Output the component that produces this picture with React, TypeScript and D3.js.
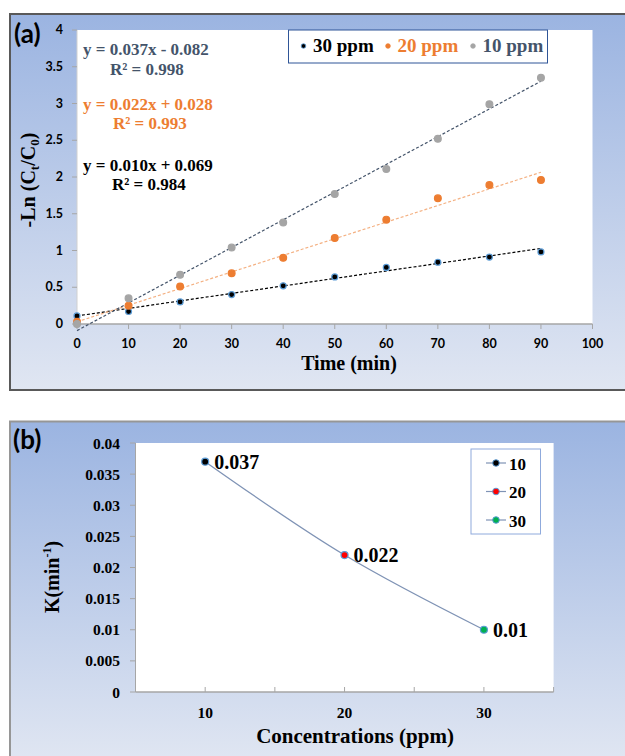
import React from 'react';
import * as d3 from 'd3';

// ---- panel (a) data ----
const times = [0, 10, 20, 30, 40, 50, 60, 70, 80, 90];
const ppm30 = [0.11, 0.17, 0.30, 0.40, 0.52, 0.64, 0.77, 0.84, 0.91, 0.98];
const ppm20 = [0.03, 0.25, 0.51, 0.69, 0.90, 1.17, 1.42, 1.71, 1.89, 1.96];
const ppm10 = [0.0, 0.35, 0.67, 1.04, 1.38, 1.77, 2.11, 2.52, 2.99, 3.35];
// trend lines as drawn (slope, intercept) for 30, 20, 10 ppm
const trendSlopes = [0.0102, 0.0226, 0.0377];
const trendIntercepts = [0.11, 0.03, -0.09];
const xTicksA = [0, 10, 20, 30, 40, 50, 60, 70, 80, 90, 100];
const yTicksA = [0, 0.5, 1, 1.5, 2, 2.5, 3, 3.5, 4];
const equations = ['y = 0.037x - 0.082', 'y = 0.022x + 0.028', 'y = 0.010x + 0.069'];
const rSquared = ['R² = 0.998', 'R² = 0.993', 'R² = 0.984'];
const legendA = ['30 ppm', '20 ppm', '10 ppm'];

// ---- panel (b) data ----
const concentrations = [10, 20, 30];
const rateK = [0.037, 0.022, 0.01];
const kLabels = ['0.037', '0.022', '0.01'];
const xTicksB = [5, 10, 15, 20, 25, 30, 35];
const xLabelsB = [10, 20, 30];
const yTicksB = [0, 0.005, 0.01, 0.015, 0.02, 0.025, 0.03, 0.035, 0.04];

const SERIF = '"Liberation Serif", "Times New Roman", serif';
const SANS = 'Lato, "Open Sans", sans-serif';
const C = {
  slate: '#44546a',
  orange: '#ed7d31',
  orangeLight: '#f4b183',
  gray: '#a5a5a5',
  blueRing: '#5b9bd5',
  axis: '#a6a6a6',
  line: '#7f93b5',
};

function PanelA() {
  const x = d3.scaleLinear().domain([0, 100]).range([77, 592.5]);
  const y = d3.scaleLinear().domain([0, 4]).range([324, 30]);
  const series = [
    { vals: ppm30, fill: '#000', stroke: C.blueRing, trend: '#000', r: 3 },
    { vals: ppm20, fill: C.orange, stroke: C.orange, trend: C.orangeLight, r: 3.4 },
    { vals: ppm10, fill: C.gray, stroke: C.gray, trend: C.slate, r: 3.4 },
  ];
  const eqColors = [C.slate, C.orange, '#000'];
  const eqY = [55, 110, 171];
  const rY = [75, 129, 190];
  const rX = [110, 113, 112];
  const legendColors = ['#000', C.orange, C.slate];
  const dotColors = ['#000', C.orange, C.gray];
  const legendDotX = [303.5, 388, 473];
  const line = d3.line<number>().x((d) => x(d[0])).y((d) => y(d[1]));
  return (
    <g>
      <rect x={10} y={14} width={620} height={376} fill="url(#bgGrad)" stroke="#595959" strokeWidth={2} />
      <rect x={77} y={30} width={515.5} height={294} fill="#fff" />
      <text x={14} y={43} fontFamily={SANS} fontWeight={700} fontSize={26}>(a)</text>
      {/* axes */}
      <line x1={77} x2={77} y1={30} y2={324} stroke="#d0d0d0" />
      <line x1={77} x2={592.5} y1={324} y2={324} stroke={C.axis} strokeWidth={1.5} />
      {yTicksA.map((t) => (
        <g key={'ya' + t}>
          <line x1={72} x2={77} y1={y(t)} y2={y(t)} stroke={C.axis} />
          <text x={63} y={y(t) + 4} textAnchor="end" fontFamily={SANS} fontWeight={700} fontSize={12.5}>{t}</text>
        </g>
      ))}
      {xTicksA.map((t) => (
        <g key={'xa' + t}>
          <line x1={x(t)} x2={x(t)} y1={324} y2={329} stroke={C.axis} />
          <text x={x(t)} y={348} textAnchor="middle" fontFamily={SANS} fontWeight={700} fontSize={12.5}>{t}</text>
        </g>
      ))}
      <text x={349} y={370} textAnchor="middle" fontFamily={SERIF} fontWeight={700} fontSize={20}>Time (min)</text>
      <text transform={`translate(35,180) rotate(-90)`} textAnchor="middle" fontFamily={SERIF} fontWeight={700} fontSize={20}>
        -Ln (C<tspan fontSize={13} dy={4}>t</tspan><tspan dy={-4}>/C</tspan><tspan fontSize={13} dy={4}>0</tspan><tspan dy={-4}>)</tspan>
      </text>
      {/* trend lines */}
      {series.map((s, i) => (
        <path
          key={'tr' + i}
          d={line([[0, trendIntercepts[i]], [90, trendIntercepts[i] + trendSlopes[i] * 90]] as any) || ''}
          fill="none"
          stroke={s.trend}
          strokeWidth={1.2}
          strokeDasharray="3,2"
        />
      ))}
      {/* points */}
      {series.map((s, i) =>
        s.vals.map((v, j) => (
          <circle key={`p${i}-${j}`} cx={x(times[j])} cy={y(v)} r={s.r} fill={s.fill} stroke={s.stroke} strokeWidth={1.2} />
        ))
      )}
      {/* equations */}
      {equations.map((e, i) => (
        <g key={'eq' + i} fontFamily={SERIF} fontWeight={700} fontSize={17} fill={eqColors[i]}>
          <text x={83} y={eqY[i]}>{e}</text>
          <text x={rX[i]} y={rY[i]}>{rSquared[i]}</text>
        </g>
      ))}
      {/* legend */}
      <rect x={288.5} y={30} width={259} height={33} fill="#fff" stroke="#2f5597" strokeWidth={1} />
      {legendA.map((l, i) => (
        <g key={'la' + i}>
          <circle cx={legendDotX[i]} cy={46} r={2.3} fill={dotColors[i]} stroke={i === 0 ? C.blueRing : dotColors[i]} strokeWidth={0.8} />
          <text x={legendDotX[i] + 9.5} y={52} fontFamily={SERIF} fontWeight={700} fontSize={19} fill={legendColors[i]}>{l}</text>
        </g>
      ))}
    </g>
  );
}

function PanelB() {
  const x = d3.scaleLinear().domain([5, 35]).range([135.5, 553.6]);
  const y = d3.scaleLinear().domain([0, 0.04]).range([692, 443]);
  const fills = ['#000', '#ff0000', '#00b050'];
  const pts = concentrations.map((c, i) => [c, rateK[i]] as [number, number]);
  const curve = d3.line().x((d) => x(d[0])).y((d) => y(d[1])).curve(d3.curveCatmullRom.alpha(0.5));
  return (
    <g>
      <rect x={10} y={421.5} width={620} height={340} fill="url(#bgGrad2)" stroke="#969696" strokeWidth={2} />
      <rect x={135.5} y={443} width={418.1} height={249} fill="#fff" />
      <text x={13} y={449} fontFamily={SANS} fontWeight={700} fontSize={26}>(b)</text>
      <line x1={135.5} x2={135.5} y1={443} y2={692} stroke={C.axis} />
      <line x1={135.5} x2={553.6} y1={692} y2={692} stroke={C.axis} strokeWidth={1.5} />
      {yTicksB.map((t) => (
        <g key={'yb' + t}>
          <line x1={130} x2={135.5} y1={y(t)} y2={y(t)} stroke={C.axis} />
          <text x={120} y={y(t) + 5.5} textAnchor="end" fontFamily={SERIF} fontWeight={700} fontSize={15.5}>{t}</text>
        </g>
      ))}
      {xTicksB.map((t) => (
        <line key={'xb' + t} x1={x(t)} x2={x(t)} y1={692} y2={687} stroke={C.axis} />
      ))}
      {xLabelsB.map((t) => (
        <text key={'xl' + t} x={x(t)} y={718} textAnchor="middle" fontFamily={SERIF} fontWeight={700} fontSize={15.5}>{t}</text>
      ))}
      <text x={355} y={743} textAnchor="middle" fontFamily={SERIF} fontWeight={700} fontSize={21}>Concentrations (ppm)</text>
      <text transform={`translate(59,577) rotate(-90)`} textAnchor="middle" fontFamily={SERIF} fontWeight={700} fontSize={20}>
        K(min<tspan fontSize={12} dy={-8}>-1</tspan><tspan dy={8}>)</tspan>
      </text>
      <path d={curve(pts) || ''} fill="none" stroke={C.line} strokeWidth={1.3} />
      {pts.map((p, i) => (
        <g key={'pb' + i}>
          <circle cx={x(p[0])} cy={y(p[1])} r={3.5} fill={fills[i]} stroke={C.blueRing} strokeWidth={1.2} />
          <text x={x(p[0]) + 9} y={y(p[1]) + 7} fontFamily={SERIF} fontWeight={700} fontSize={20}>{kLabels[i]}</text>
        </g>
      ))}
      {/* legend */}
      <rect x={471} y={449} width={69.5} height={85} fill="#fff" stroke="#8faadc" strokeWidth={1} />
      {concentrations.map((c, i) => (
        <g key={'lb' + i}>
          <line x1={486} x2={506} y1={463 + i * 28.5} y2={463 + i * 28.5} stroke={C.line} strokeWidth={1.2} />
          <circle cx={496} cy={463 + i * 28.5} r={3.3} fill={fills[i]} stroke={C.blueRing} strokeWidth={1} />
          <text x={509} y={469.5 + i * 28.5} fontFamily={SERIF} fontWeight={700} fontSize={17}>{c}</text>
        </g>
      ))}
    </g>
  );
}

export default function App() {
  return (
    <div style={{ position: 'absolute', left: 0, top: 0 }}>
      <svg width={625} height={756} style={{ display: 'block', background: '#fff' }}>
        <defs>
          <linearGradient id="bgGrad" x1="0" y1="0" x2="0" y2="1">
            <stop offset="0" stopColor="#9bb4e1" />
            <stop offset="1" stopColor="#e0e6f2" />
          </linearGradient>
          <linearGradient id="bgGrad2" x1="0" y1="0" x2="0" y2="1">
            <stop offset="0" stopColor="#9bb4e1" />
            <stop offset="1" stopColor="#e0e6f2" />
          </linearGradient>
        </defs>
        <PanelA />
        <PanelB />
      </svg>
    </div>
  );
}
